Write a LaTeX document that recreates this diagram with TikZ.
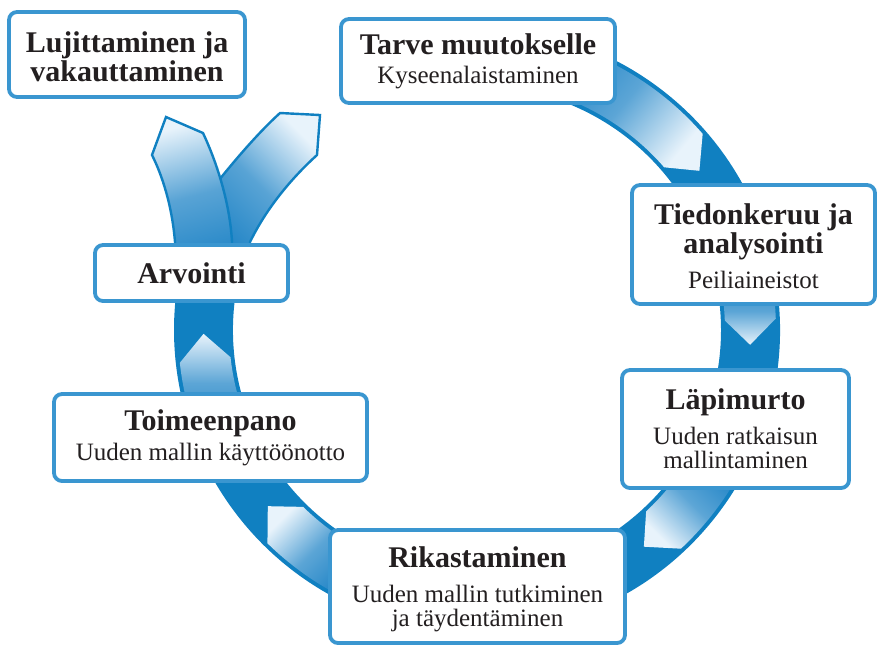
\documentclass[tikz,border=0pt]{standalone}
\usepackage{fontspec}
\setmainfont{Liberation Serif}
\definecolor{ringblue}{RGB}{16,128,193}
\definecolor{boxblue}{RGB}{58,150,208}
\definecolor{gdark}{RGB}{32,132,198}
\definecolor{glight}{RGB}{232,243,251}
\definecolor{inkdark}{RGB}{35,31,32}
\newcommand\stagesub[1]{{\fontsize{12.5}{12}\selectfont\mdseries #1}}
\newcommand\toprow[1]{\rule{0pt}{#1}}
% one light arrow on the ring: start angle, back corners, tip, shading angle
\newcommand\ringarrow[4]{%
  \shade[top color=glight, bottom color=gdark, middle color=gdark!70!glight,
    shading angle=#4]
    (#1:299) arc[start angle=#1, end angle=#2, radius=299]
    -- (#3:273.5) -- (#2:248)
    arc[start angle=#2, end angle=#1, radius=248] -- cycle;}
\begin{document}
\begin{tikzpicture}[x=0.5pt, y=0.5pt,
  stage/.style={draw=boxblue, line width=1.9pt, fill=white,
    rounded corners=4pt, inner sep=0pt, align=center, text=inkdark,
    font=\fontsize{15}{14.5}\selectfont\bfseries},
  branch/.style={draw=ringblue, line width=1.2pt,
    top color=glight, bottom color=gdark, middle color=gdark!72!glight}]
\useasboundingbox (0,0) rectangle (877,-645);

% the cycle band
\begin{scope}[shift={(477,-330)}]
  \fill[ringblue] (100:303) arc[start angle=100, end angle=-195, radius=303]
    -- (-195:244) arc[start angle=-195, end angle=100, radius=244] -- cycle;
  \ringarrow{75}{41}{35.6}{-130}
  \ringarrow{10}{2.2}{-3.1}{180}
  \ringarrow{-30}{-47}{-52.4}{135}
  \ringarrow{-118}{-134.5}{-139.9}{45}
  \ringarrow{-160}{-173.7}{-179.2}{0}
\end{scope}

% the two branches leaving the evaluation step
\path[branch, shading angle=-45]
  (248,-275) -- (250,-242) .. controls (268,-205) and (295,-175) .. (317,-155)
  -- (320,-115) -- (280,-113) .. controls (258,-133) and (235,-160) .. (215,-185)
  -- (215,-275) -- cycle;
\path[branch, shading angle=15]
  (177,-275) -- (175,-242) .. controls (172,-205) and (162,-175) .. (152,-155)
  -- (166,-117) -- (203,-133) .. controls (218,-165) and (230,-205) .. (232,-242)
  -- (233,-275) -- cycle;

% stages
\node[stage, minimum width=118pt, minimum height=42.5pt] (lujittaminen) at (127,-54.5)
  {\toprow{12.5pt}Lujittaminen ja\\vakauttaminen};
\node[stage, minimum width=137pt, minimum height=42pt] (tarve) at (478,-61)
  {Tarve muutokselle\\\stagesub{Kyseenalaistaminen}};
\node[stage, minimum width=121.5pt, minimum height=59.5pt] (tiedonkeruu) at (753.5,-244.5)
  {\toprow{12.5pt}Tiedonkeruu ja\\analysointi\\[3pt]\stagesub{Peiliaineistot}};
\node[stage, minimum width=96.5pt, minimum height=28pt] (arvointi) at (191.5,-273)
  {Arvointi};
\node[stage, minimum width=156.5pt, minimum height=43.5pt] (toimeenpano) at (210.5,-437.5)
  {Toimeenpano\\[0.5pt]\stagesub{Uuden mallin käyttöönotto}};
\node[stage, minimum width=113.5pt, minimum height=59pt] (lapimurto) at (735.5,-429)
  {Läpimurto\\[3pt]\stagesub{Uuden ratkaisun}\\[-2.5pt]\stagesub{mallintaminen}};
\node[stage, minimum width=147.5pt, minimum height=56.5pt] (rikastaminen) at (477.5,-586.5)
  {\toprow{13.5pt}Rikastaminen\\[3pt]\stagesub{Uuden mallin tutkiminen}\\[-2.5pt]\stagesub{ja täydentäminen}};
\end{tikzpicture}
\end{document}
